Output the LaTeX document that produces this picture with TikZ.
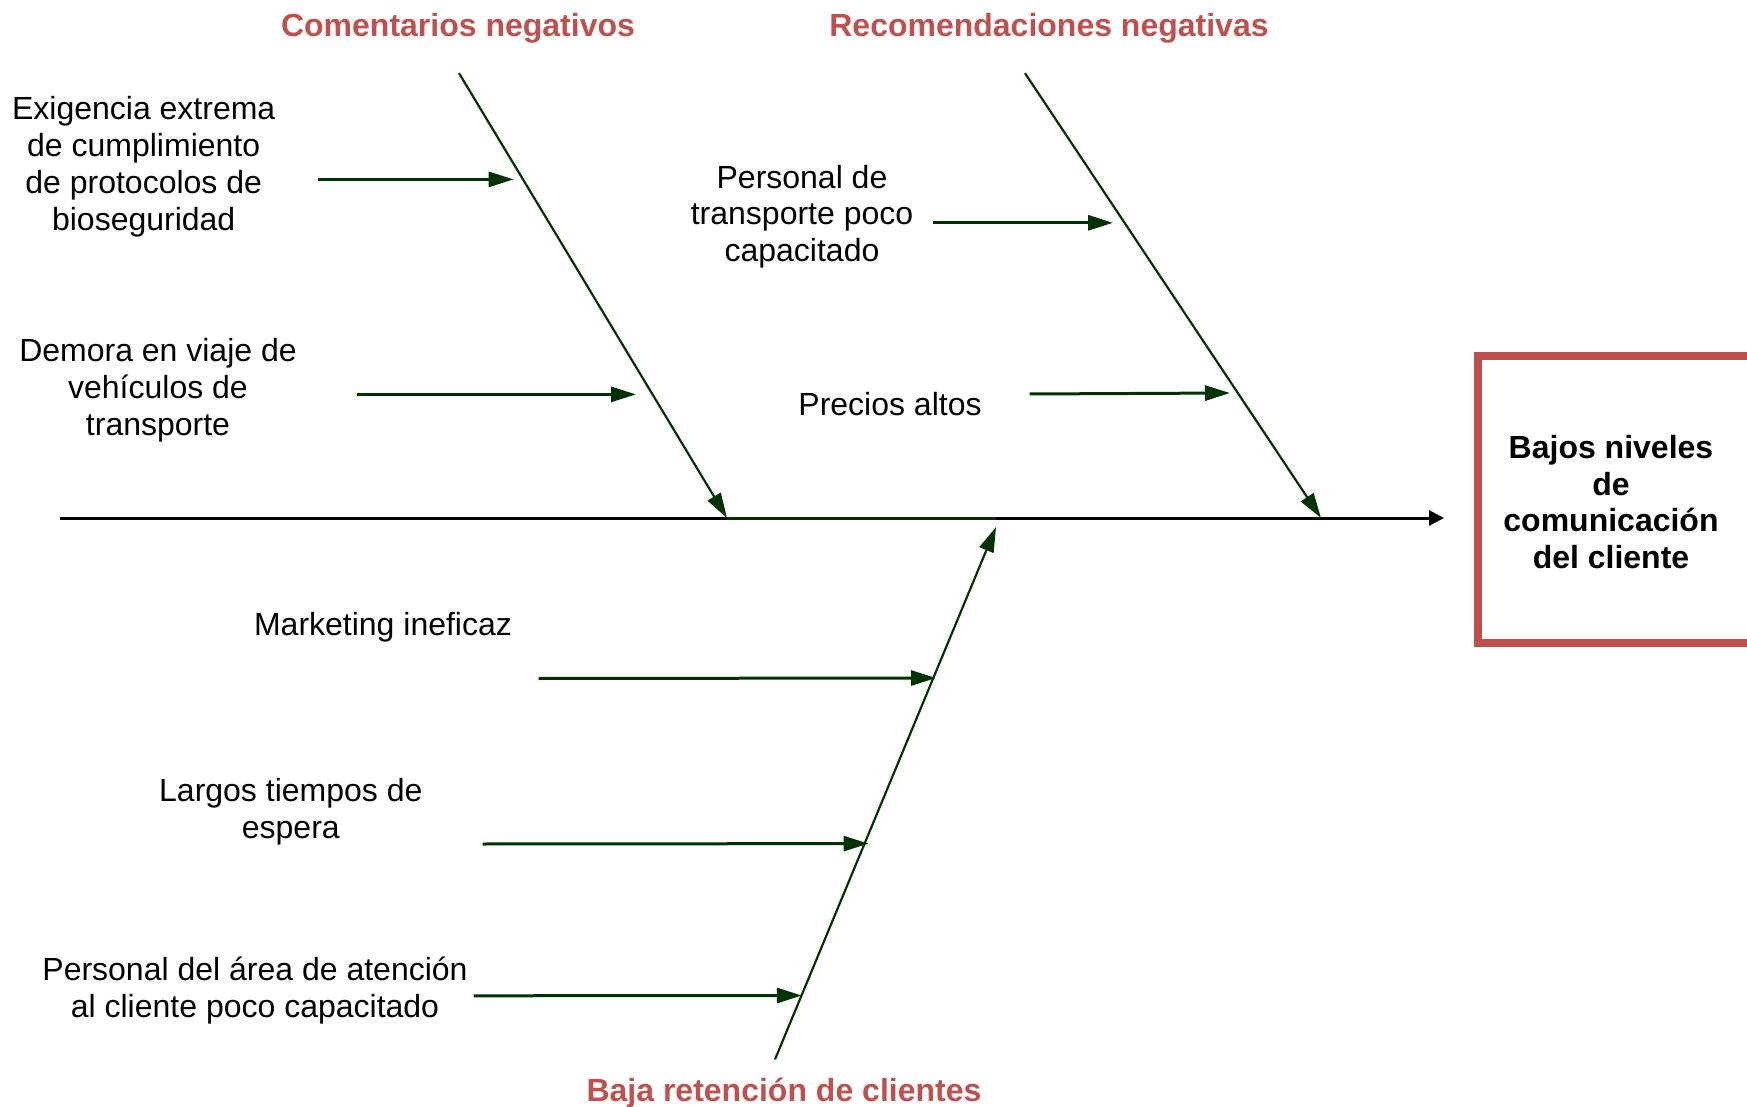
\documentclass[tikz,border=0pt]{standalone}
\usepackage{fontspec}
\setmainfont{Liberation Sans}
\usetikzlibrary{arrows.meta}
\definecolor{redt}{HTML}{C0504D}
\definecolor{dgreen}{HTML}{003300}
\begin{document}
\begin{tikzpicture}[x=0.5pt,y=-0.5pt,
  lbl/.style={font=\fontsize{16}{18.4}\selectfont, align=center, inner sep=0pt},
  ttl/.style={font=\bfseries\fontsize{16}{18.4}\selectfont, text=redt, inner sep=0pt},
  bone/.style={draw=dgreen, line width=1.1pt, -{Triangle[length=12.5pt,width=7.5pt]}},
  subarrow/.style={draw=dgreen, line width=1.5pt, -{Triangle[length=12.5pt,width=7.5pt]}},
  spine/.style={draw=black, line width=1.5pt, -{Triangle[length=7.5pt,width=7.5pt]}}]
\useasboundingbox (0,0) rectangle (1747,1107);

% effect box
\node[draw=redt, line width=4pt, minimum width=137.25pt, minimum height=143.25pt,
      inner sep=0pt] (effect) at (1614.75,499.75) {};
\node[font=\bfseries\fontsize{16}{18.4}\selectfont, align=center, inner sep=0pt]
  (effecttext) at (1611,502) {Bajos niveles\\de\\comunicación\\del cliente};

% spine
\coordinate (s0) at (60,518);
\coordinate (s1) at (1444,518);
\coordinate (b1e) at (727,518);
\coordinate (b2e) at (1321,518);
\coordinate (b3e) at (996,527);
\coordinate (g1) at (996,518);
\draw[spine] (s0) -- (s1);
\draw[dgreen, line width=1.5pt] (b1e) -- (g1);

% category titles
\node[ttl] (t1) at (458,28) {Comentarios negativos};
\node[ttl] (t2) at (1049,28) {Recomendaciones negativas};
\node[ttl] (t3) at (784,1093) {Baja retención de clientes};

% bones
\coordinate (b1s) at (459,73.2);
\coordinate (b2s) at (1025,73.2);
\coordinate (b3s) at (775,1059.4);
\draw[bone] (b1s) -- (b1e);
\draw[bone] (b2s) -- (b2e);
\draw[bone] (b3s) -- (b3e);

% cause labels
\node[lbl] (c1) at (143.7,166.7) {Exigencia extrema\\de cumplimiento\\de protocolos de\\bioseguridad};
\node[lbl] (c2) at (158,390) {Demora en viaje de\\vehículos de\\transporte};
\node[lbl] (c3) at (802,216.7) {Personal de\\transporte poco\\capacitado};
\node[lbl] (c4) at (890,404.5) {Precios altos};
\node[lbl] (c5) at (383,627) {Marketing ineficaz};
\node[lbl] (c6) at (290.8,811.5) {Largos tiempos de\\espera};
\node[lbl] (c7) at (255,990.7) {Personal del área de atención\\al cliente poco capacitado};

% cause arrows
\coordinate (a1s) at (317.5,179.4);  \coordinate (a1e) at (513.6,179.4);
\coordinate (a2s) at (356.5,394.4);  \coordinate (a2e) at (636,394.4);
\coordinate (a3s) at (933,222.8);    \coordinate (a3e) at (1113,222.8);
\coordinate (a4s) at (1029.5,394);   \coordinate (a4e) at (1230,393);
\coordinate (a5s) at (538.5,678.5);  \coordinate (a5e) at (936,678);
\coordinate (a6s) at (482.6,844);    \coordinate (a6e) at (868.5,843.6);
\coordinate (a7s) at (473.5,995.8);  \coordinate (a7e) at (801.8,995.5);
\draw[subarrow] (a1s) -- (a1e);
\draw[subarrow] (a2s) -- (a2e);
\draw[subarrow] (a3s) -- (a3e);
\draw[subarrow] (a4s) -- (a4e);
\draw[subarrow] (a5s) -- (a5e);
\draw[subarrow] (a6s) -- (a6e);
\draw[subarrow] (a7s) -- (a7e);
\end{tikzpicture}
\end{document}
